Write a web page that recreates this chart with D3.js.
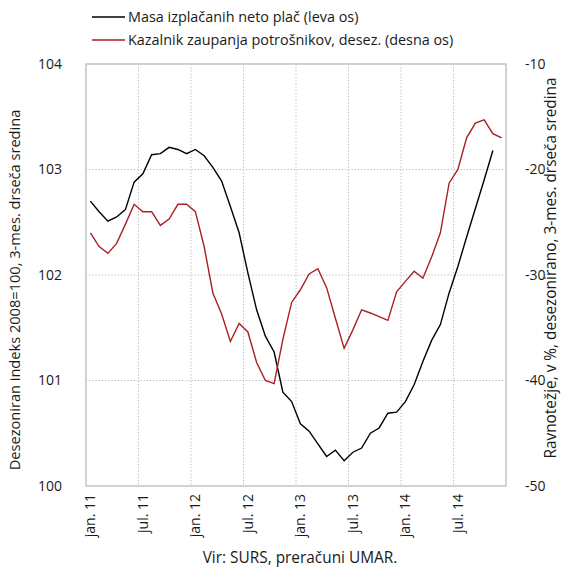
<!DOCTYPE html>
<html><head><meta charset="utf-8">
<script src="https://cdn.jsdelivr.net/npm/d3@7"></script>
<style>body{margin:0;background:#fff}svg{display:block}text{font-family:"Open Sans",sans-serif;fill:#1a1a1a}</style>
</head><body>
<script>
const months = [];
const years = ["11","12","13","14"];
const mNames = ["jan.","feb.","mar.","apr.","maj","jun.","jul.","avg.","sep.","okt.","nov.","dec."];
years.forEach(y => mNames.forEach(m => months.push(m + " " + y)));

const wageMass = [102.70,102.60,102.51,102.55,102.62,102.88,102.96,103.14,103.15,103.21,103.19,103.15,
  103.19,103.13,103.02,102.89,102.65,102.40,102.02,101.67,101.42,101.27,100.89,100.80,
  100.59,100.52,100.40,100.28,100.34,100.24,100.32,100.36,100.50,100.55,100.69,100.70,
  100.80,100.96,101.18,101.38,101.53,101.83,102.08,102.36,102.63,102.90,103.18,null];
const confidence = [-26.0,-27.3,-27.95,-27.0,-25.2,-23.3,-24.0,-24.0,-25.3,-24.7,-23.3,-23.3,
  -24.0,-27.3,-31.7,-33.7,-36.3,-34.6,-35.4,-38.3,-40.0,-40.3,-36.1,-32.6,
  -31.4,-29.9,-29.4,-31.2,-34.1,-36.95,-35.2,-33.3,-33.6,-33.95,-34.3,-31.6,
  -30.6,-29.65,-30.3,-28.3,-26.0,-21.3,-20.0,-17.0,-15.6,-15.3,-16.6,-17.0];
const leftTicks = [100,101,102,103,104];
const rightTicks = [-50,-40,-30,-20,-10];
const tickMonths = ["jan. 11","jul. 11","jan. 12","jul. 12","jan. 13","jul. 13","jan. 14","jul. 14"];
const legendLabels = ["Masa izplačanih neto plač (leva os)","Kazalnik zaupanja potrošnikov, desez. (desna os)"];
const colors = ["#000000","#a82024"];
const leftTitle = "Desezoniran indeks 2008=100, 3-mes. drseča sredina";
const rightTitle = "Ravnotežje, v %, desezonirano, 3-mes. drseča sredina";
const source = "Vir: SURS, preračuni UMAR.";

const W = 563, H = 569;
const m = {left:86, right:57, top:64, bottom:83};
const svg = d3.select("body").append("svg").attr("width",W).attr("height",H);

const x = d3.scaleBand().domain(months).range([m.left, W-m.right]);
const yL = d3.scaleLinear().domain([100,104]).range([H-m.bottom, m.top]);
const yR = d3.scaleLinear().domain([-50,-10]).range([H-m.bottom, m.top]);
const cx = d => x(d) + x.bandwidth()/2;

// grid
const g = svg.append("g");
g.selectAll(".hg").data(leftTicks.filter(t => t>100 && t<104)).join("line")
  .attr("x1",m.left).attr("x2",W-m.right).attr("y1",d=>yL(d)).attr("y2",d=>yL(d))
  .attr("stroke","#b8b8b8").attr("stroke-width",1).attr("stroke-dasharray","1.2,2");
g.selectAll(".vg").data(tickMonths.slice(1)).join("line")
  .attr("x1",d=>x(d)).attr("x2",d=>x(d)).attr("y1",m.top).attr("y2",H-m.bottom)
  .attr("stroke","#b8b8b8").attr("stroke-width",1).attr("stroke-dasharray","1.2,2");
svg.append("rect").attr("x",m.left).attr("y",m.top).attr("width",W-m.left-m.right).attr("height",H-m.top-m.bottom)
  .attr("fill","none").attr("stroke","#c4c4c4").attr("stroke-width",1.5);

// axes
const axL = svg.append("g").attr("transform",`translate(${m.left},0)`)
  .call(d3.axisLeft(yL).tickValues(leftTicks).tickSize(0).tickPadding(24).tickFormat(d3.format("d")));
const axR = svg.append("g").attr("transform",`translate(${W-m.right},0)`)
  .call(d3.axisRight(yR).tickValues(rightTicks).tickSize(0).tickPadding(19).tickFormat(d=>d3.format("d")(d).replace("−","-")));
const axB = svg.append("g").attr("transform",`translate(0,${H-m.bottom})`)
  .call(d3.axisBottom(x).tickValues(tickMonths).tickSize(0).tickPadding(0));
[axL,axR,axB].forEach(a => { a.select(".domain").remove(); a.selectAll("text").style("font-size","14px").attr("fill","#1a1a1a"); });
axB.selectAll("text").attr("transform","rotate(-90)").attr("text-anchor","end")
  .attr("x",-8).attr("y",0).attr("dy","0.36em");

// lines
const lineL = d3.line().defined(d=>d[1]!=null).x(d=>cx(d[0])).y(d=>yL(d[1]));
const lineR = d3.line().defined(d=>d[1]!=null).x(d=>cx(d[0])).y(d=>yR(d[1]));
svg.append("path").datum(months.map((mm,i)=>[mm,wageMass[i]])).attr("d",lineL)
  .attr("fill","none").attr("stroke",colors[0]).attr("stroke-width",1.4);
svg.append("path").datum(months.map((mm,i)=>[mm,confidence[i]])).attr("d",lineR)
  .attr("fill","none").attr("stroke",colors[1]).attr("stroke-width",1.4);

// legend
legendLabels.forEach((t,i) => {
  const yy = 17 + i*23;
  svg.append("line").attr("x1",92).attr("x2",125).attr("y1",yy).attr("y2",yy).attr("stroke",colors[i]).attr("stroke-width",1.4);
  svg.append("text").attr("x",128).attr("y",yy).attr("dy","0.35em").style("font-size","14.4px").text(t);
});

// titles
svg.append("text").attr("transform",`translate(20,290) rotate(-90)`)
  .attr("text-anchor","middle").style("font-size","14.6px").text(leftTitle);
svg.append("text").attr("transform",`translate(551,268) rotate(-90)`)
  .attr("text-anchor","middle").attr("dy","0.35em").style("font-size","15.4px").text(rightTitle);
svg.append("text").attr("x",300).attr("y",558).attr("text-anchor","middle").attr("dy","0.35em")
  .style("font-size","15.4px").text(source);
</script>
</body></html>
